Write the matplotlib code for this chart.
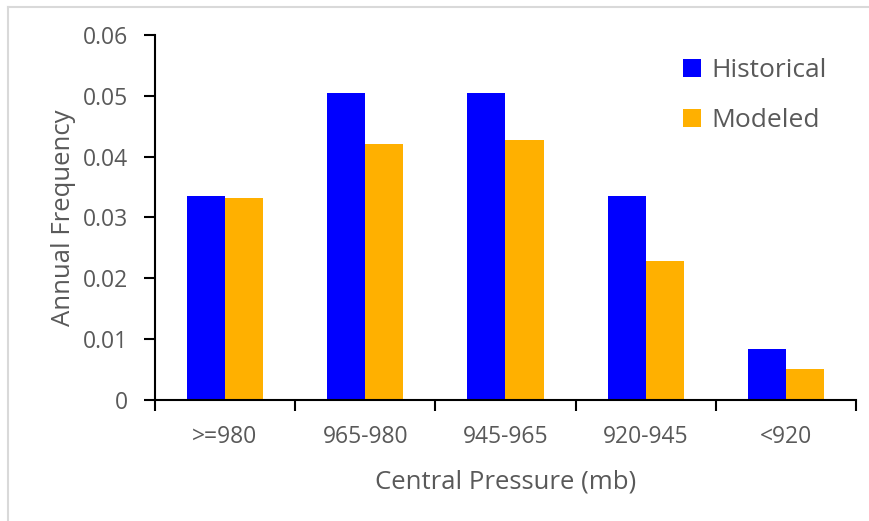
import matplotlib.pyplot as plt
import numpy as np
from matplotlib.lines import Line2D
from matplotlib.patches import Patch

plt.rcParams["font.family"] = ["Open Sans", "DejaVu Sans"]

categories = [">=980", "965-980", "945-965", "920-945", "<920"]
historical = [0.0336, 0.0505, 0.0505, 0.0336, 0.0083]
modeled = [0.0332, 0.0421, 0.0428, 0.0229, 0.0051]

text_grey = "#595959"
blue = "#0000FF"
orange = "#FFB000"

fig = plt.figure(figsize=(8.7, 5.21), dpi=100)
ax = fig.add_axes([0.178, 0.2332, 0.806, 0.699])

x = np.arange(len(categories))
width = 0.272
ax.bar(x - width / 2, historical, width, color=blue, label="Historical", zorder=2)
ax.bar(x + width / 2, modeled, width, color=orange, label="Modeled", zorder=2)

ax.set_xlim(-0.5, len(categories) - 0.5)
ax.set_ylim(0, 0.06)
ax.set_yticks(np.arange(0, 0.061, 0.01))
ax.set_yticklabels(["0", "0.01", "0.02", "0.03", "0.04", "0.05", "0.06"])
ax.set_xticks(x)
ax.set_xticklabels(categories)
ax.set_xticks(np.arange(-0.5, len(categories), 1.0), minor=True)

ax.tick_params(axis="y", direction="out", length=8, width=1.5, colors="black",
               labelcolor=text_grey, labelsize=16.5, pad=11)
ax.tick_params(axis="x", which="major", length=0, labelcolor=text_grey,
               labelsize=16.5, pad=18)
ax.tick_params(axis="x", which="minor", direction="out", length=8, width=1.5,
               colors="black")

for side in ("top", "right"):
    ax.spines[side].set_visible(False)
for side in ("left", "bottom"):
    ax.spines[side].set_linewidth(1.5)

ax.set_xlabel("Central Pressure (mb)", fontsize=18.5, color=text_grey, labelpad=15)
ax.set_ylabel("Annual Frequency", fontsize=18.5, color=text_grey, labelpad=5)

handles = [
    Patch(facecolor=blue, label="Historical"),
    Patch(facecolor=orange, label="Modeled"),
]
fig.legend(handles=handles, loc="upper left", bbox_to_anchor=(0.785, 0.888),
           bbox_transform=fig.transFigure, frameon=False, fontsize=19,
           labelcolor=text_grey, borderpad=0, borderaxespad=0,
           handlelength=0.68, handleheight=0.68, handletextpad=0.4,
           labelspacing=0.95)

# light chart-area border, as in the source
fig.add_artist(Line2D([8 / 870, 8 / 870], [0, 1 - 7 / 521],
                      transform=fig.transFigure, color="#D9D9D9", linewidth=1.5))
fig.add_artist(Line2D([8 / 870, 1], [1 - 7 / 521, 1 - 7 / 521],
                      transform=fig.transFigure, color="#D9D9D9", linewidth=1.5))

fig.savefig("out.png", dpi=100)
